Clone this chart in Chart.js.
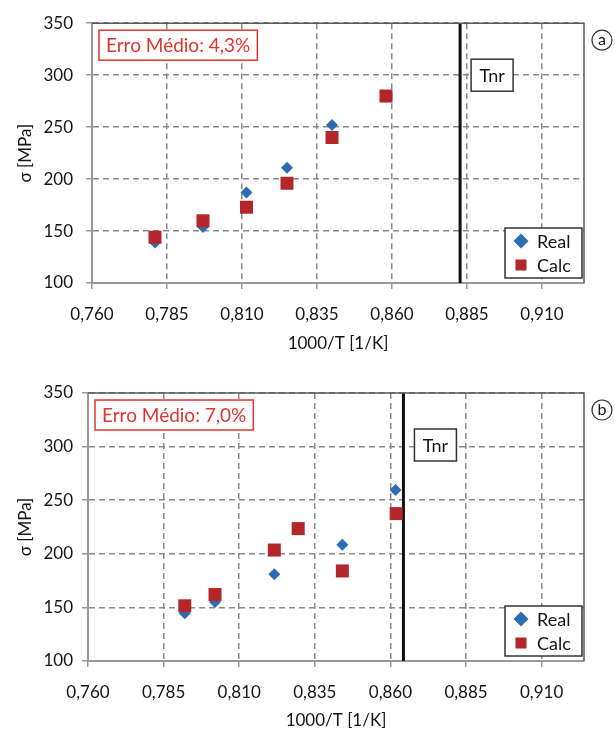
<!DOCTYPE html>
<html>
<head>
<meta charset="utf-8">
<script src="https://cdn.jsdelivr.net/npm/chart.js@4.4.1/dist/chart.umd.min.js"></script>
<style>
  html, body { margin: 0; padding: 0; background: #fff; }
  .panel { position: absolute; left: 0; width: 615px; }
  #panel-a { top: 0; height: 366px; }
  #panel-b { top: 366px; height: 367px; }
</style>
</head>
<body>
<div class="panel" id="panel-a"><canvas id="chart-a"></canvas></div>
<div class="panel" id="panel-b"><canvas id="chart-b"></canvas></div>
<script>
const xTicks = [0.760, 0.785, 0.810, 0.835, 0.860, 0.885, 0.910];
const xTickLabels = ['0,760', '0,785', '0,810', '0,835', '0,860', '0,885', '0,910'];
const yTicks = [100, 150, 200, 250, 300, 350];
const xTitle = '1000/T [1/K]';
const yTitle = 'σ [MPa]';

// panel (a)
const realXA = [0.781, 0.797, 0.8115, 0.825, 0.840, 0.858];
const realYA = [139, 154, 187, 211, 252, 279];
const calcXA = [0.781, 0.797, 0.8115, 0.825, 0.840, 0.858];
const calcYA = [144, 160, 173, 196, 240, 280];
const tnrA = 0.8827;
const erroA = 'Erro Médio: 4,3%';

// panel (b)
const realXB = [0.792, 0.802, 0.8216, 0.8295, 0.8441, 0.8617];
const realYB = [144.5, 155, 181, 223, 208.5, 259.5];
const calcXB = [0.792, 0.802, 0.8216, 0.8295, 0.8441, 0.8619];
const calcYB = [151.5, 162, 203.5, 223.5, 184, 237.5];
const tnrB = 0.8643;
const erroB = 'Erro Médio: 7,0%';

const BLUE = '#2b6cb3';
const RED = '#b3272b';
const FONT = 'Lato, "Open Sans", sans-serif';
const INK = '#151515';

function diamond(ctx, x, y, r) {
  ctx.beginPath();
  ctx.moveTo(x - r, y); ctx.lineTo(x, y - r); ctx.lineTo(x + r, y); ctx.lineTo(x, y + r);
  ctx.closePath(); ctx.fill();
}

const decorPlugin = {
  id: 'decor',
  afterDatasetsDraw(chart, args, o) {
    const { ctx, chartArea: a, scales: { x } } = chart;
    ctx.save();
    // top + right frame
    ctx.strokeStyle = '#5a5a5a';
    ctx.lineWidth = 1.5;
    ctx.beginPath();
    ctx.moveTo(a.left, a.top); ctx.lineTo(a.right, a.top); ctx.lineTo(a.right, a.bottom);
    ctx.stroke();

    ctx.textBaseline = 'middle';

    // mean error box
    ctx.font = '19px ' + FONT;
    const tw = ctx.measureText(o.erro).width;
    const bx = a.left + 7, by = a.top + 7;
    ctx.fillStyle = '#fff';
    ctx.fillRect(bx, by, tw + 14, 30);
    ctx.strokeStyle = '#e0352f';
    ctx.lineWidth = 1.5;
    ctx.strokeRect(bx, by, tw + 14, 30);
    ctx.fillStyle = '#e0352f';
    ctx.textAlign = 'left';
    ctx.fillText(o.erro, bx + 7, by + 16);

    ctx.font = '18px ' + FONT;

    // Tnr label
    const tx = x.getPixelForValue(o.tnr) + 11, ty = a.top + 36;
    ctx.fillStyle = '#fff';
    ctx.fillRect(tx, ty, 42, 32);
    ctx.strokeStyle = '#333';
    ctx.strokeRect(tx, ty, 42, 32);
    ctx.fillStyle = INK;
    ctx.textAlign = 'center';
    ctx.fillText('Tnr', tx + 21, ty + 17);

    // legend
    const lx = a.right - 79, ly = a.bottom - 55;
    ctx.fillStyle = '#fff';
    ctx.fillRect(lx, ly, 77, 50);
    ctx.strokeStyle = '#333';
    ctx.strokeRect(lx, ly, 77, 50);
    ctx.fillStyle = BLUE;
    diamond(ctx, lx + 16, ly + 13, 7.5);
    ctx.fillStyle = RED;
    ctx.fillRect(lx + 16 - 5.5, ly + 37 - 5.5, 11, 11);
    ctx.fillStyle = INK;
    ctx.textAlign = 'left';
    ctx.fillText('Real', lx + 32, ly + 14);
    ctx.fillText('Calc', lx + 32, ly + 38);

    // panel letter
    const cx = a.right + 18, cy = a.top + 17;
    ctx.strokeStyle = '#333';
    ctx.lineWidth = 1.2;
    ctx.beginPath();
    ctx.arc(cx, cy, 10, 0, Math.PI * 2);
    ctx.stroke();
    ctx.font = '16px ' + FONT;
    ctx.textAlign = 'center';
    ctx.fillText(o.letter, cx, cy);
    ctx.restore();
  }
};

function pts(xs, ys) {
  return xs.map((x, i) => ({ x, y: ys[i] }));
}

function makeChart(id, p) {
  return new Chart(document.getElementById(id), {
    type: 'scatter',
    data: {
      datasets: [
        {
          label: 'Real',
          data: pts(p.realX, p.realY),
          pointStyle: 'rectRot',
          pointRadius: 6,
          pointHoverRadius: 6,
          backgroundColor: BLUE,
          borderWidth: 0,
          order: 2,
        },
        {
          label: 'Calc',
          data: pts(p.calcX, p.calcY),
          pointStyle: 'rect',
          pointRadius: 9.2,
          pointHoverRadius: 9.2,
          backgroundColor: RED,
          borderWidth: 0,
          order: 1,
        },
        {
          label: 'Tnr',
          data: [{ x: p.tnr, y: yTicks[0] }, { x: p.tnr, y: yTicks[yTicks.length - 1] }],
          showLine: true,
          borderColor: '#111',
          borderWidth: 3,
          pointRadius: 0,
          order: 3,
        },
      ],
    },
    options: {
      responsive: true,
      maintainAspectRatio: false,
      animation: false,
      layout: { padding: { top: p.top, right: 31, left: 0, bottom: 0 } },
      plugins: {
        legend: { display: false },
        tooltip: { enabled: false },
        decor: { erro: p.erro, tnr: p.tnr, letter: p.letter },
      },
      scales: {
        x: {
          type: 'linear',
          min: 0.76,
          max: 0.924,
          afterBuildTicks: (s) => { s.ticks = xTicks.map((v) => ({ value: v })); },
          afterFit: (s) => { s.height = p.xHeight; },
          grid: { color: '#8a8a8a', lineWidth: 1.5, tickLength: 6, tickColor: '#999', tickWidth: 1.5 },
          border: { color: '#999', width: 2, dash: [6, 4] },
          ticks: {
            color: INK,
            font: { family: FONT, size: 17 },
            padding: 15,
            maxRotation: 0,
            autoSkip: false,
            callback: (v, i) => xTickLabels[i],
          },
          title: {
            display: true,
            text: xTitle,
            color: INK,
            font: { family: FONT, size: 17 },
            padding: { top: 0, bottom: p.titlePad },
          },
        },
        y: {
          type: 'linear',
          min: 100,
          max: 350,
          afterBuildTicks: (s) => { s.ticks = yTicks.map((v) => ({ value: v })); },
          afterFit: (s) => { s.width = p.yWidth; },
          grid: { color: '#8a8a8a', lineWidth: 1.5, tickLength: 6, tickColor: '#999', tickWidth: 1.5 },
          border: { color: '#999', width: 2, dash: [6, 4] },
          ticks: {
            color: INK,
            font: { family: FONT, size: 17 },
            padding: p.yPad,
          },
          title: {
            display: true,
            text: yTitle,
            color: INK,
            font: { family: FONT, size: 17 },
            padding: { top: 15, bottom: 0 },
          },
        },
      },
    },
    plugins: [decorPlugin],
  });
}

makeChart('chart-a', {
  realX: realXA, realY: realYA, calcX: calcXA, calcY: calcYA,
  tnr: tnrA, erro: erroA, letter: 'a',
  top: 16, xHeight: 83, yWidth: 92, yPad: 13, titlePad: 12,
});

makeChart('chart-b', {
  realX: realXB, realY: realYB, calcX: calcXB, calcY: calcYB,
  tnr: tnrB, erro: erroB, letter: 'b',
  top: 27, xHeight: 72, yWidth: 88, yPad: 9, titlePad: 2,
});
</script>
</body>
</html>
